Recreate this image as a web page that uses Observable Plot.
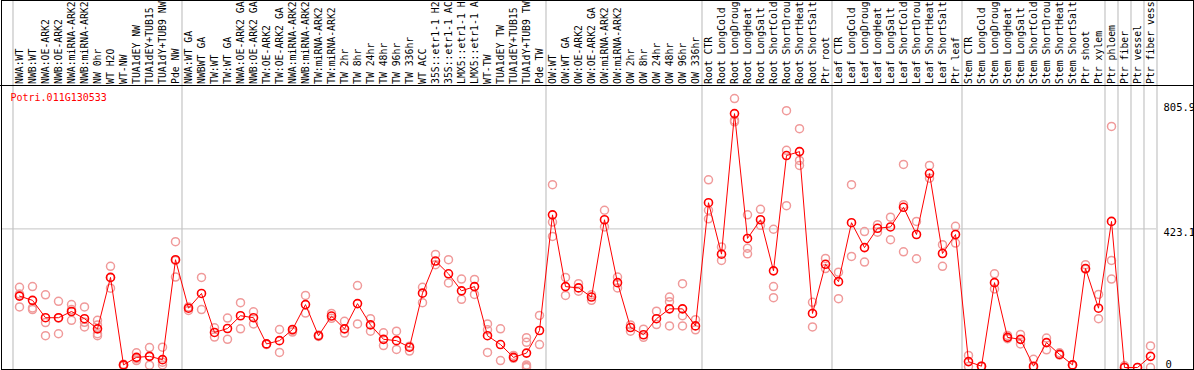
<!DOCTYPE html>
<html>
<head>
<meta charset="utf-8">
<script src="https://cdn.jsdelivr.net/npm/d3@7"></script>
<script src="https://cdn.jsdelivr.net/npm/@observablehq/plot@0.6"></script>
<style>
  html, body { margin: 0; padding: 0; background: #fff; }
</style>
</head>
<body>
<div id="chart"></div>
<script>
const title = "Potri.011G130533";

// sample labels as shown on the chart (the chart shows at most 14 characters)
const categories = [
  "NWA:WT","NWB:WT","NWA:OE-ARK2","NWB:OE-ARK2","NWA:miRNA-ARK2","NWB:miRNA-ARK2","NW 0hr","WT H2O","WT-NW","TUA1dEY NW","TUA1dEY+TUB15","TUA1dY+TUB9 NW","Pde NW",
  "NWA:WT GA","NWBWT GA","TW:WT","TW:WT GA","NWA:OE-ARK2 GA","NWB:OE-ARK2 GA","TW:OE-ARK2","TW:OE-ARK2 GA","NWA:miRNA-ARK2","NWB:miRNA-ARK2","TW:miRNA-ARK2","TW:miRNA-ARK2","TW 2hr","TW 8hr","TW 24hr","TW 48hr","TW 96hr","TW 336hr","WT ACC","35S::etr1-1 H2","35S::etr1-1 AC","LMX5::etr1-1 H","LMX5::etr1-1 A","WT-TW","TUA1dEY TW","TUA1dEY+TUB15","TUA1dY+TUB9 TW","Pde TW",
  "OW:WT","OW:WT GA","OW:OE-ARK2","OW:OE-ARK2 GA","OW:miRNA-ARK2","OW:miRNA-ARK2","OW 2hr","OW 8hr","OW 24hr","OW 48hr","OW 96hr","OW 336hr",
  "Root CTR","Root LongCold","Root LongDroug","Root LongHeat","Root LongSalt","Root ShortCold","Root ShortDrou","Root ShortHeat","Root ShortSalt","Ptr root",
  "Leaf CTR","Leaf LongCold","Leaf LongDroug","Leaf LongHeat","Leaf LongSalt","Leaf ShortCold","Leaf ShortDrou","Leaf ShortHeat","Leaf ShortSalt","Ptr leaf",
  "Stem CTR","Stem LongCold","Stem LongDroug","Stem LongHeat","Stem LongSalt","Stem ShortCold","Stem ShortDrou","Stem ShortHeat","Stem ShortSalt","Ptr shoot","Ptr xylem",
  "Ptr phloem","Ptr fiber","Ptr vessel","Ptr fiber vess"
];

// number of consecutive samples in each group (separated by grey lines)
const groupSizes = [13, 28, 12, 10, 10, 11, 1, 1, 1, 1];

const means = [
  218,205,152,152,171,149,118,275,8,31,34,24,329,
  181,226,107,119,158,152,72,82,116,192,97,157,118,195,130,86,82,62,227,325,286,234,247,97,70,31,44,113,
  466,247,243,215,451,259,122,100,149,179,179,127,
  503,346,775,394,451,295,647,659,165,315,
  262,442,366,425,429,489,406,592,348,406,
  18,4,259,92,86,4,76,40,8,302,181,
  446,0,0,34
];

const reps = [
  [245,185,224],[247,182,177],[222,137,97],[202,103,151],[192,144,177],[185,124,138],[144,130,103,97],[309,242,274],[10,5,8],[27,21,45],[61,7,34],[62,16,8],[384,276,327],
  [174,185],[275,177],[121,93],[151,86],[198,118],[170,133],[72,70],[116,46],[113,108],[220,166],[99,95],[165,150],[141,105],[250,133],[149,111],[106,67],[111,55],[50,65],[245,198],[345,314],[329,258],[270,208],[269,223],[133,115,46],[118,21],[37,28],[91,77,8,3,0],[159,70],
  [558,444,400],[275,220],[256,233],[222,205],[480,429],[276,243],[130,111],[117,92],[172,131],[215,201,127],[256,158,127],[146,115],
  [573,480,454],[368,327],[821,755,750],[466,364,347],[483,434],[422,247,213],[784,663,494],[729,632,617],[199,124],[333,302],
  [291,210],[558,339],[415,322],[436,413],[459,390],[620,497,353],[446,332],[617,578],[375,309],[431,380],
  [37,3],[4,2],[286,240],[98,88],[101,72],[25,0],[90,54],[45,38],[8,6],[314,300],[223,149],
  [736,327,270],[0,5],[0],[66,0]
];

const yTicks = [805.9, 423.1, 0];
const gridY = [423.1];

// derived tables
const meanData = categories.map((c, i) => ({i, c, v: means[i]}));
const repData = reps.flatMap((arr, i) => arr.map(v => ({i, v})));
const boundaries = [-0.5];
groupSizes.reduce((acc, n) => { boundaries.push(acc + n - 0.5); return acc + n; }, 0);

function frameLines(index, scales, values, dims) {
  const {width, height, marginTop} = dims;
  const g = d3.create("svg:g").attr("fill", "none").attr("stroke", "#000").attr("stroke-width", 1);
  g.append("rect").attr("x", 1.5).attr("y", 0.5).attr("width", width - 2).attr("height", height - 1);
  g.append("line").attr("x1", 0).attr("x2", width).attr("y1", marginTop + 0.5).attr("y2", marginTop + 0.5);
  return g.node();
}

const font = "'DejaVu Sans Mono', monospace";

const chart = Plot.plot({
  width: 1194,
  height: 370,
  marginTop: 85,
  marginBottom: 1,
  marginLeft: 1,
  marginRight: 38,
  style: {fontFamily: font, fontSize: "10px", background: "#fff", overflow: "hidden"},
  x: {type: "linear", domain: [-0.5, categories.length - 0.5], range: [12.5, 1156.5], axis: null},
  y: {type: "linear", domain: [0, yTicks[0]], range: [367, 103], axis: null},
  marks: [
    Plot.ruleY(gridY, {y: d => d, stroke: "#c4c4c4", strokeWidth: 1}),
    Plot.ruleX(boundaries, {x: d => d, stroke: "#c4c4c4", strokeWidth: 1.2, insetTop: -85}),
    Plot.text(meanData, {x: "i", text: "c", frameAnchor: "top", rotate: -90, textAnchor: "start", lineAnchor: "middle", dy: -1.5, fill: "#000", fontSize: 9.8}),
    Plot.text(yTicks.filter(d => d !== 0), {y: d => d, text: d => String(d), frameAnchor: "right", textAnchor: "start", lineAnchor: "top", dx: 7, fill: "#000", fontSize: 10.5}),
    Plot.text(yTicks.filter(d => d === 0), {y: d => d, text: d => String(d), frameAnchor: "right", textAnchor: "start", lineAnchor: "bottom", dx: 9, fill: "#000", fontSize: 10.5}),
    Plot.text([title], {text: d => d, frameAnchor: "top-left", textAnchor: "start", lineAnchor: "top", dx: 9, dy: 8, fill: "#ff0000", fontSize: 10}),
    Plot.dot(repData, {x: "i", y: "v", r: 4, stroke: "#f09a9a", strokeWidth: 1.5, fill: "none"}),
    Plot.line(meanData, {x: "i", y: "v", stroke: "#ff0000", strokeWidth: 1}),
    Plot.dot(meanData, {x: "i", y: "v", r: 4, stroke: "#ff0000", strokeWidth: 1.6, fill: "none"}),
    frameLines
  ]
});
document.getElementById("chart").appendChild(chart);
</script>
</body>
</html>
